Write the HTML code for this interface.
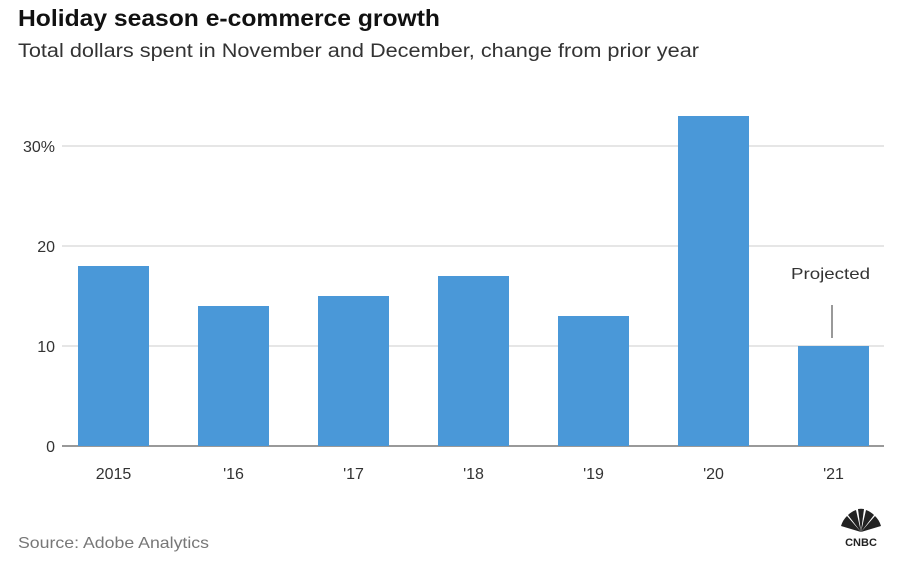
<!DOCTYPE html>
<html><head><meta charset="utf-8"><style>
html,body{margin:0;padding:0;background:#fff;width:915px;height:565px;overflow:hidden;font-family:"Liberation Sans",sans-serif}
</style></head><body>
<svg width="915" height="565" xmlns="http://www.w3.org/2000/svg">
<text x="18" y="26" font-size="23" font-weight="bold" fill="#111" textLength="422" lengthAdjust="spacingAndGlyphs">Holiday season e-commerce growth</text>
<text x="18" y="57" font-size="19" fill="#333" textLength="681" lengthAdjust="spacingAndGlyphs">Total dollars spent in November and December, change from prior year</text>
<g id="grid"></g>
<g id="bars"></g>
<g id="xlabels"></g>
<text x="791" y="279" font-size="16" fill="#333" textLength="79" lengthAdjust="spacingAndGlyphs">Projected</text>
<line x1="832" y1="305" x2="832" y2="338" stroke="#333" stroke-width="1"/>
<text x="18" y="548" font-size="16" fill="#777" textLength="191" lengthAdjust="spacingAndGlyphs">Source: Adobe Analytics</text>
<g transform="translate(861,532)">
<path d="M0,0 L-20,-6 A22,22 0 0 1 -14,-16 Z" fill="#222"/>
<path d="M0,0 L-13,-17 A22,22 0 0 1 -5,-22 Z" fill="#222"/>
<path d="M0,0 L-3,-23 A22,22 0 0 1 3,-23 Z" fill="#222"/>
<path d="M0,0 L5,-22 A22,22 0 0 1 13,-17 Z" fill="#222"/>
<path d="M0,0 L14,-16 A22,22 0 0 1 20,-6 Z" fill="#222"/>
<text x="0" y="14" font-size="11" font-weight="bold" fill="#222" text-anchor="middle">CNBC</text>
</g>
</svg>
<script>
const categories=["2015","'16","'17","'18","'19","'20","'21"];
const values=[18,14,15,17,13,33,10];
const yTicks=[0,10,20,30];
const yTickLabels=["0","10","20","30%"];
const NS="http://www.w3.org/2000/svg";
const y=v=>446-v*10;
const xc=i=>113.5+i*120;
const bw=71;
const grid=document.getElementById('grid'),bars=document.getElementById('bars'),xl=document.getElementById('xlabels');
function mk(tag,attrs){const e=document.createElementNS(NS,tag);for(const k in attrs)e.setAttribute(k,attrs[k]);return e;}
yTicks.forEach((t,i)=>{
 const l=mk('line',{x1:62,x2:884,y1:y(t),y2:y(t),stroke:t===0?'#333':'#ccc','stroke-width':1});
 
 
 grid.appendChild(l);
 const tx=mk('text',{x:55,y:y(t)+6,'font-size':16,fill:'#333','text-anchor':'end'});
 tx.textContent=yTickLabels[i];
 
 
 grid.appendChild(tx);
});
categories.forEach((c,i)=>{
 const r=mk('rect',{x:xc(i)-bw/2,y:y(values[i]),width:bw,height:y(0)-y(values[i]),fill:'#4a98d8'});
 
 
 bars.appendChild(r);
 const t=mk('text',{x:xc(i),y:479,'font-size':16,fill:'#333','text-anchor':'middle'});
 t.textContent=c;
 
 
 xl.appendChild(t);
});
</script>
</body></html>
